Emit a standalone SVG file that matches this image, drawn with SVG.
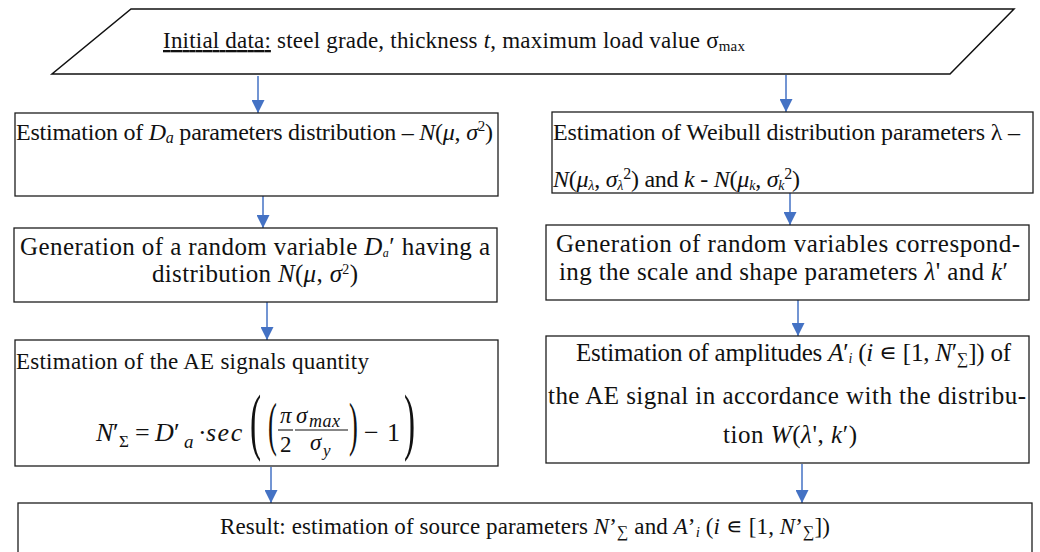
<svg xmlns="http://www.w3.org/2000/svg" width="1040" height="552" viewBox="0 0 1040 552">
<style>
.t{font-family:"Liberation Serif","Times New Roman",serif;fill:#111;}
.f23{font-size:23px;}
.f24{font-size:24px;}
.f25{font-size:25px;}
.i{font-style:italic;}
.box{fill:#fff;stroke:#1e1e1e;stroke-width:1.3;}
.conn{stroke:#4472C4;stroke-width:1.5;fill:none;}
</style>
<defs>
<marker id="ah" viewBox="0 0 10 10" refX="10" refY="5" markerWidth="13" markerHeight="13" markerUnits="userSpaceOnUse" orient="auto">
<path d="M0,0 L10,5 L0,10 z" fill="#4472C4"/>
</marker>
</defs>
<rect width="1040" height="552" fill="#fff"/>

<g id="connectors">
<line class="conn" x1="258" y1="76" x2="258" y2="113" marker-end="url(#ah)"/>
<line class="conn" x1="786" y1="75" x2="786" y2="112" marker-end="url(#ah)"/>
<line class="conn" x1="263" y1="193" x2="263" y2="228" marker-end="url(#ah)"/>
<line class="conn" x1="790" y1="193" x2="790" y2="225" marker-end="url(#ah)"/>
<line class="conn" x1="267" y1="302" x2="267" y2="340" marker-end="url(#ah)"/>
<line class="conn" x1="798" y1="300" x2="798" y2="336" marker-end="url(#ah)"/>
<line class="conn" x1="271" y1="467" x2="271" y2="503" marker-end="url(#ah)"/>
<line class="conn" x1="802" y1="464" x2="802" y2="503" marker-end="url(#ah)"/>
</g>

<g id="initial-data">
<polygon points="131,9 1014,9 950,74 52,74" fill="#fff" stroke="#111" stroke-width="1.5"/>
<text class="t f23" x="163" y="48" textLength="582"><tspan style="text-decoration:underline">Initial data:</tspan> steel grade, thickness <tspan class="i">t</tspan>, maximum load value σ<tspan font-size="15" dy="3">max</tspan></text>
</g>

<g id="estimate-da">
<rect class="box" x="15" y="113" width="483" height="83"/>
<text class="t f24" x="16" y="140" textLength="477">Estimation of <tspan class="i">D</tspan><tspan class="i" font-size="16" dy="3">a</tspan><tspan dy="-3"> parameters distribution – </tspan><tspan class="i">N</tspan>(<tspan class="i">μ</tspan>, <tspan class="i">σ</tspan><tspan font-size="15" dy="-9">2</tspan><tspan dy="9">)</tspan></text>
</g>

<g id="estimate-weibull">
<rect class="box" x="552" y="112" width="481" height="81"/>
<text class="t f24" x="553" y="140" textLength="467">Estimation of Weibull distribution parameters λ –</text>
<text class="t f24" x="553" y="187" textLength="247"><tspan class="i">N</tspan>(<tspan class="i">μ</tspan><tspan class="i" font-size="14" dy="3">λ</tspan><tspan dy="-3">, </tspan><tspan class="i">σ</tspan><tspan class="i" font-size="14" dy="3">λ</tspan><tspan font-size="16" dy="-11">2</tspan><tspan dy="8">) and </tspan><tspan class="i">k</tspan> - <tspan class="i">N</tspan>(<tspan class="i">μ</tspan><tspan class="i" font-size="14" dy="3">k</tspan><tspan dy="-3">, </tspan><tspan class="i">σ</tspan><tspan class="i" font-size="14" dy="3">k</tspan><tspan font-size="16" dy="-11">2</tspan><tspan dy="8">)</tspan></text>
</g>

<g id="generate-da">
<rect class="box" x="14" y="228" width="483" height="74"/>
<text class="t f25" x="255" y="255" text-anchor="middle" textLength="470">Generation of a random variable <tspan class="i">D</tspan><tspan class="i" font-size="12" dy="2">a</tspan><tspan dy="-2">′ having a</tspan></text>
<text class="t f25" x="255" y="282" text-anchor="middle" textLength="206">distribution <tspan class="i">N</tspan>(<tspan class="i">μ</tspan>, <tspan class="i">σ</tspan><tspan font-size="14" dy="-8">2</tspan><tspan dy="8">)</tspan></text>
</g>

<g id="generate-lambda-k">
<rect class="box" x="546" y="225" width="483" height="75"/>
<text class="t f25" x="788" y="252" text-anchor="middle" textLength="464">Generation of random variables correspond-</text>
<text class="t f25" x="783.5" y="280" text-anchor="middle" textLength="449">ing the scale and shape parameters <tspan class="i">λ</tspan>' and <tspan class="i">k</tspan>′</text>
</g>

<g id="estimate-ae-quantity">
<rect class="box" x="15" y="340" width="483" height="126"/>
<text class="t f23" x="16" y="369" textLength="353">Estimation of the AE signals quantity</text>
<g class="t i" font-size="26">
<text x="96" y="441">N</text>
<text x="113" y="441" font-style="normal">′</text>
<text x="119" y="447" font-size="17" font-style="normal">Σ</text>
<text x="135" y="441" font-style="normal">=</text>
<text x="155" y="441">D</text>
<text x="174" y="441" font-style="normal">′</text>
<text x="184" y="448" font-size="19">a</text>
<text x="198" y="441" font-style="normal">·</text>
<text x="206" y="441" letter-spacing="1.5">sec</text>
<text transform="translate(250,446) scale(0.45,1)" font-size="74" font-style="normal">(</text>
<text transform="translate(268,444) scale(0.45,1)" font-size="59" font-style="normal">(</text>
<text x="280" y="423" font-size="23">π</text>
<line x1="278" y1="430" x2="293" y2="430" stroke="#111" stroke-width="1.1"/>
<text x="280" y="452" font-size="23" font-style="normal">2</text>
<text x="296" y="423" font-size="23">σ</text>
<text x="309" y="427" font-size="18" letter-spacing="0.5">max</text>
<line x1="295" y1="430" x2="348" y2="430" stroke="#111" stroke-width="1.1"/>
<text x="310" y="450" font-size="23">σ</text>
<text x="323" y="456" font-size="17">y</text>
<text transform="translate(349,444) scale(0.45,1)" font-size="59" font-style="normal">)</text>
<text x="364" y="441" font-style="normal">−</text>
<text x="387" y="441" font-style="normal">1</text>
<text transform="translate(404,446) scale(0.45,1)" font-size="74" font-style="normal">)</text>
</g>
</g>

<g id="estimate-amplitudes">
<rect class="box" x="546" y="336" width="483" height="127"/>
<text class="t f25" x="576" y="361" textLength="435">Estimation of amplitudes <tspan class="i">A</tspan>′<tspan class="i" font-size="14" dy="2">i</tspan><tspan dy="-2"> (</tspan><tspan class="i">i</tspan> ∊ [1, <tspan class="i">N</tspan>′<tspan font-size="16" dy="3">∑</tspan><tspan dy="-3">]) of</tspan></text>
<text class="t f25" x="548" y="404" textLength="478">the AE signal in accordance with the distribu-</text>
<text class="t f25" x="723" y="443" textLength="134">tion <tspan class="i">W</tspan>(<tspan class="i">λ</tspan>', <tspan class="i">k</tspan>′)</text>
</g>

<g id="result">
<rect class="box" x="18" y="503" width="1014" height="70"/>
<text class="t f23" x="220" y="534" textLength="610">Result: estimation of source parameters <tspan class="i">N</tspan>’<tspan font-size="16" dy="3">∑</tspan><tspan dy="-3"> and </tspan><tspan class="i">A</tspan>’<tspan class="i" font-size="15" dy="3">i</tspan><tspan dy="-3"> (</tspan><tspan class="i">i</tspan> ∊ [1, <tspan class="i">N</tspan>’<tspan font-size="16" dy="3">∑</tspan><tspan dy="-3">])</tspan></text>
</g>
</svg>
